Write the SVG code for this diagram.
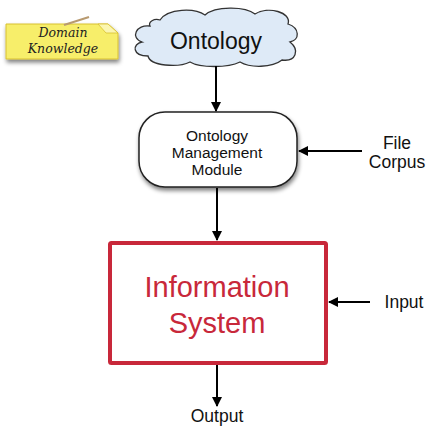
<svg xmlns="http://www.w3.org/2000/svg" width="433" height="427" viewBox="0 0 433 427">
<style>
.t{font-family:"Liberation Sans",Arial,sans-serif;fill:#111;text-anchor:middle}
.c{stroke:#000;stroke-width:2;fill:none}
.n{font-family:'DejaVu Serif',serif;font-style:italic;font-size:12.5px;fill:#222;text-anchor:middle}
</style>
<defs>
<marker id="ah" viewBox="0 0 10 10" refX="9" refY="5" markerWidth="10" markerHeight="10" markerUnits="userSpaceOnUse" orient="auto">
<path d="M0,0 L10,5 L0,10 z" fill="#000"/>
</marker>
<filter id="sh" x="-20%" y="-20%" width="140%" height="160%">
<feGaussianBlur in="SourceAlpha" stdDeviation="2"/>
<feOffset dx="1" dy="3"/>
<feComponentTransfer><feFuncA type="linear" slope="0.5"/></feComponentTransfer>
<feMerge><feMergeNode/><feMergeNode in="SourceGraphic"/></feMerge>
</filter>
</defs>
<rect width="433" height="427" fill="#fff"/>
<g id="note">
<path d="M6,24 L108,24 L118,33 L118,59 L6,59 z" fill="#f7ee6a" stroke="#d8c030" stroke-width="1" filter="url(#sh)"/>
<path d="M98,24 L108,24 L118,33 L106,33 z" fill="#fbf6b0" stroke="#d8c030" stroke-width="0.8"/>
<path d="M64,25 L89,17" stroke="#b89a70" stroke-width="2"/>
<text class="n" x="63" y="37">Domain</text>
<text class="n" x="63" y="53">Knowledge</text>
</g>
<g id="ontology">
<path d="M160,20 C168,8 195,8 205,15 C215,6 245,6 255,14 C268,6 292,12 288,24 C300,28 300,40 290,42 C300,50 296,62 282,60 C272,68 250,68 240,62 C228,68 200,68 190,62 C178,68 150,66 148,56 C132,56 132,44 142,42 C130,38 136,24 150,26 C148,22 154,18 160,20 z" fill="#deeaf7" stroke="#333" stroke-width="1.3"/>
<text class="t" x="216" y="49" style="font-size:23px">Ontology</text>
</g>
<g id="module">
<rect x="139" y="112" width="158" height="75" rx="26" ry="26" fill="#fff" stroke="#222" stroke-width="1.5" filter="url(#sh)"/>
<text class="t" x="217" y="141" style="font-size:15.5px">Ontology</text>
<text class="t" x="217" y="158" style="font-size:15.5px">Management</text>
<text class="t" x="217" y="175" style="font-size:15.5px">Module</text>
</g>
<g id="corpus">
<text class="t" x="397" y="149" style="font-size:17.5px">File</text>
<text class="t" x="397" y="168" style="font-size:17.5px">Corpus</text>
</g>
<g id="infosys">
<rect x="110" y="243" width="216" height="120" rx="1.5" fill="#fff" stroke="#c8283a" stroke-width="4"/>
<text class="t" x="217" y="297" style="font-size:29px;fill:#c8283a">Information</text>
<text class="t" x="217" y="333" style="font-size:29px;fill:#c8283a">System</text>
</g>
<g id="input"><text class="t" x="404" y="308" style="font-size:17.5px">Input</text></g>
<g id="output"><text class="t" x="217" y="422" style="font-size:17.5px">Output</text></g>
<g id="connectors">
<line class="c" x1="216" y1="66" x2="216" y2="111" marker-end="url(#ah)"/>
<line class="c" x1="362" y1="151" x2="299" y2="151" marker-end="url(#ah)"/>
<line class="c" x1="217" y1="188" x2="217" y2="240" marker-end="url(#ah)"/>
<line class="c" x1="370" y1="302" x2="329" y2="302" marker-end="url(#ah)"/>
<line class="c" x1="217" y1="365" x2="217" y2="406" marker-end="url(#ah)"/>
</g>
</svg>
